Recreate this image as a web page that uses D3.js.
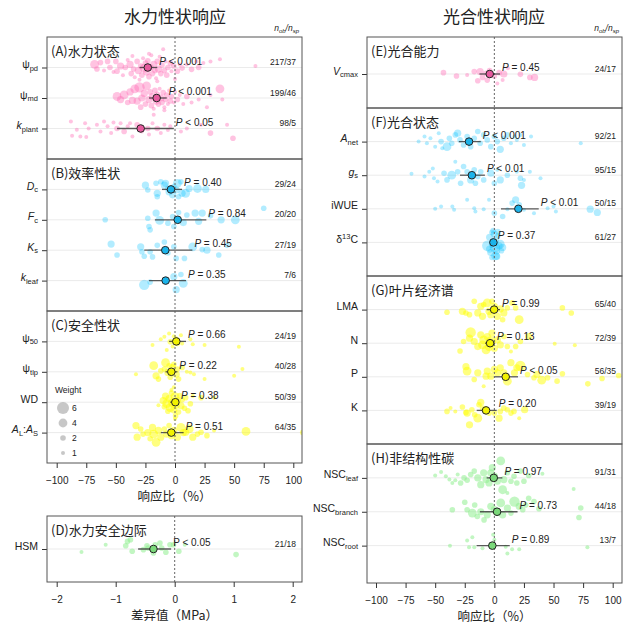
<!DOCTYPE html>
<html>
<head>
<meta charset="utf-8">
<script src="https://cdn.jsdelivr.net/npm/d3@7"></script>
<style>
  body { margin: 0; background: #fff; }
  text { font-family: "Liberation Sans", Arial, sans-serif; fill: #222; }
  .cjk { font-family: "Noto Sans CJK SC", sans-serif; }
</style>
</head>
<body>
<svg id="viz" width="639" height="632"></svg>
<script>
// ---------- data ----------
const traitKeys = ['psi_pd','psi_md','k_plant','D_c','F_c','K_s','k_leaf','psi_50','psi_tlp','WD','AL_AS','HSM',
  'V_cmax','A_net','g_s','iWUE','d13C','LMA','N','P','K','NSC_leaf','NSC_branch','NSC_root'];

// mean effect and 95% CI (response ratio %, HSM in MPa)
const traitMean = [-23, -15.5, -29, -3.4, 2.3, -8.2, -7.9, 1.1, -3.1, 0.3, -3.1, -0.36,
  -3.9, -21.4, -19, 20.3, -0.8, -0.2, -3.6, 9.6, -7, -0.5, 2.3, -1.7];
const traitLow = [-30, -22, -49, -11, -17, -26, -22, -5, -8, -4, -12, -0.62,
  -12.6, -30, -29, 5.6, -2.5, -6.5, -7.8, 0.3, -14.9, -6.5, -12.2, -15];
const traitHigh = [-15, -7, -1, 6, 26.5, 14.7, 9.3, 9.3, 2, 3.4, 7.3, -0.06,
  4.8, -11.5, -8, 37.5, 1.2, 4.8, 0.6, 20, 2, 6.8, 19.6, 13];
const traitP = ['< 0.001','< 0.001','< 0.05','= 0.40','= 0.84','= 0.45','= 0.35','= 0.66','= 0.22','= 0.38','= 0.51','< 0.05',
  '= 0.45','< 0.001','< 0.01','< 0.01','= 0.37','= 0.99','= 0.13','< 0.05','= 0.20','= 0.97','= 0.73','= 0.89'];
const traitN = ['217/37','199/46','98/5','29/24','20/20','27/19','7/6','24/19','40/28','50/39','64/35','21/18',
  '24/17','92/21','95/15','50/15','61/27','65/40','72/39','56/35','39/19','91/31','44/18','13/7'];

// tick labels: [text, style] segments (n normal, i italic, sub, sup)
const tickLabels = [
  [['ψ','n'],['pd','sub']], [['ψ','n'],['md','sub']], [['k','i'],['plant','sub']],
  [['D','i'],['c','sub']], [['F','i'],['c','sub']], [['K','i'],['s','sub']], [['k','i'],['leaf','sub']],
  [['ψ','n'],['50','sub']], [['ψ','n'],['tlp','sub']], [['WD','n']],
  [['A','i'],['L','sub'],[':','n'],['A','i'],['S','sub']], [['HSM','n']],
  [['V','i'],['cmax','sub']], [['A','i'],['net','sub']], [['g','i'],['s','sub']], [['iWUE','n']],
  [['δ','n'],['13','sup'],['C','n']],
  [['LMA','n']], [['N','n']], [['P','n']], [['K','n']],
  [['NSC','n'],['leaf','sub']], [['NSC','n'],['branch','sub']], [['NSC','n'],['root','sub']]
];

// individual observations: [effect, vertical jitter (row fraction), weight]
const ptsPsiPd = [[-68,-0.1,4],[-66,0.05,2],[-63,-0.16,2],[-60,0.1,1],[-57,-0.2,2],[-55,0,2],[-52,0.15,1],[-50,-0.2,2],
  [-49,0.12,2],[-46,-0.05,3],[-44,0.25,1],[-42,0,2],[-40,-0.25,1],[-38,-0.1,3],[-37,0.2,2],[-35,0.05,2],[-34,0.32,1],
  [-32,-0.2,2],[-31,0.1,3],[-29,-0.05,2],[-28,0.25,2],[-27,-0.3,1],[-26,0.02,4],[-25,-0.15,2],[-24,0.15,3],[-23,-0.22,2],
  [-22,0.3,2],[-21,0,3],[-20,-0.4,1],[-19,0.2,2],[-18,-0.1,3],[-17,0.1,2],[-16,0.35,1],[-15,-0.2,2],[-14,0.05,3],
  [-13,-0.35,1],[-12,0.2,2],[-11,-0.08,2],[-10,-0.6,1],[-9,0.1,2],[-8,-0.2,1],[-7,0.25,2],[-6,0,2],[-4,-0.15,2],
  [-3,0.12,1],[-1,-0.05,2],[0,0.38,1],[2,0.12,2],[4,-0.1,1],[6,0.02,2],[10,-0.1,1],[14,0.06,2],[18,-0.2,1],[20,0,2],
  [24,-0.15,1],[30,-0.2,1],[38,-0.27,1],[68,-0.05,1],[-30,0.4,1],[-36,-0.38,1],[-22,-0.45,1],[-15,0.45,1]];
const ptsPsiMd = [[-49,-0.05,4],[-46,0.05,3],[-43,-0.1,4],[-40,0.15,2],[-38,-0.2,3],[-36,0.08,3],[-34,-0.3,4],[-32,0.1,3],
  [-30,-0.35,5],[-29,0.3,2],[-28,0,3],[-26,-0.15,3],[-25,0.2,2],[-24,-0.4,4],[-22,0.05,3],[-21,-0.2,2],[-20,0.25,2],
  [-19,-0.05,3],[-18,0.35,1],[-17,-0.25,2],[-16,0.1,3],[-15,-0.12,2],[-14,0.2,2],[-13,-0.3,1],[-12,0,3],[-11,0.15,2],
  [-10,-0.18,2],[-9,0.3,1],[-8,0.05,2],[-7,-0.1,2],[-6,0.2,1],[-5,-0.25,1],[-4,0.1,2],[-3,-0.05,2],[-1,0.15,1],
  [0,-0.2,1],[2,0.05,2],[4,-0.1,1],[7,0.2,1],[10,-0.05,2],[14,0.15,1],[20,0.05,1],[27,0.3,1],[30,-0.1,1],[38,-0.3,4],
  [40,0.05,1],[-18,0.55,1],[-9,0.4,1]];
const ptsKPlant = [[-88,-0.23,1],[-87,0.24,1],[-83,0.04,1],[-80,0.26,1],[-76,-0.17,1],[-75,0.28,1],[-73,0,1],[-66,-0.12,1],
  [-63,0.1,1],[-60,-0.23,1],[-57,-0.07,1],[-54,0.15,1],[-52,-0.2,1],[-49,0,2],[-46,-0.17,1],[-43,0.1,2],[-40,-0.07,1],
  [-38,-0.17,1],[-36,0.26,1],[-32,-0.12,2],[-28,0.1,1],[-23,0,2],[-22,0.2,1],[-19,-0.17,1],[-15,0,2],[-12,0.15,1],
  [-9,-0.12,1],[-6,0.05,1],[-4,-0.07,1],[5,0.1,1],[10,0,1],[22,-0.12,1],[30,0.15,2],[44,-0.12,1],[49,0.32,2]];
const ptsDc = [[-25,-0.14,3],[-23,0.02,2],[-16,-0.2,2],[-15,0.13,3],[-12,-0.25,2],[-9,-0.14,3],[-8,-0.2,3],[-6,-0.03,2],
  [-5,0.08,3],[-2,0.18,3],[-1,-0.09,2],[1,0.02,3],[2,-0.2,4],[5,-0.25,2],[6,0.13,3],[9,0.13,4],[12,-0.03,3],[19,-0.03,4],
  [26,0,3],[-15,0.24,2],[3,0.24,2]];
const ptsFc = [[-59,0,2],[-23,-0.05,2],[-22,0.22,2],[-21,0.33,2],[-16,-0.22,3],[-13,0.02,4],[-6,0.11,2],[-2,-0.11,2],
  [-1,0.22,2],[3,-0.24,2],[7,0.09,3],[10,-0.16,2],[17,-0.22,3],[20,0.05,3],[23,-0.22,3],[30,-0.13,2],[39,0,3],[51,0,4],
  [75,-0.38,2]];
const ptsKs = [[-54,-0.2,3],[-49,0.16,2],[-29,-0.11,3],[-28,0.05,2],[-26,0.2,2],[-21,0.05,2],[-19,0.22,2],[-15,-0.16,2],
  [-9,-0.27,2],[-8,0,3],[-6,0.09,2],[-1,-0.11,2],[1,0.27,2],[8,0.27,2],[15,-0.11,4],[23,-0.02,2],[27,0,3],[37,0.16,2],
  [44,-0.16,2]];
const ptsKLeaf = [[-26,0.14,5],[-21,0.05,2],[-8,0,3],[-1,-0.13,3],[1,0.3,3],[5,-0.2,2],[7,0.09,4]];
const ptsPsi50 = [[-19,0.12,1],[-12,-0.07,1],[-9,-0.15,1],[-7,0.28,1],[-5,-0.26,1],[-4,0.01,2],[-2,0.17,1],[-1,-0.17,1],
  [1,-0.1,1],[2,0.07,2],[5,-0.2,1],[6,0.07,1],[13,-0.07,1],[15,0.09,1],[25,0.12,1],[54,0.18,1]];
const ptsPsiTlp = [[-33,0.08,1],[-18,-0.2,4],[-16,0.13,3],[-14,0.24,2],[-12,-0.03,2],[-9,-0.09,2],[-8,-0.3,4],[-6,0.02,3],
  [-5,-0.2,2],[-4,0.18,2],[-2,-0.14,3],[-1,-0.25,2],[1,0.08,3],[2,-0.09,2],[3,0.24,2],[6,-0.14,2],[10,0,1],[13,0.02,1],
  [16,0.08,1],[25,0.24,1],[50,0.13,1],[57,-0.09,1],[-1,0.51,1]];
const ptsWD = [[-10,-0.05,3],[-9,0.15,2],[-8,-0.2,3],[-7,0.05,4],[-6,0.3,2],[-5,-0.12,3],[-4,0.18,4],[-3,-0.3,2],[-2,0.02,4],
  [-1,0.25,3],[0,-0.18,4],[1,0.1,3],[2,-0.05,3],[3,0.32,2],[4,-0.22,2],[5,0.12,3],[6,-0.08,2],[8,0.2,2],[9,-0.15,2],
  [11,0.28,2],[13,0.05,2],[15,-0.2,1],[22,-0.15,2],[33,-0.15,1],[-14,0.1,1],[0,0.55,1],[-3,-0.4,1],[0.5,0.45,2]];
const ptsAlAs = [[-33,-0.23,3],[-32,0.15,3],[-29,-0.12,2],[-27,0.05,2],[-23,0,3],[-21,0.2,2],[-19,-0.17,3],[-18,0.05,4],
  [-16,0.32,4],[-14,-0.07,3],[-12,0.15,3],[-9,-0.12,2],[-7,0.05,3],[-5,-0.23,2],[-3,0.1,3],[-1,-0.07,3],[2,0.15,3],
  [5,-0.17,4],[7,0,3],[9,-0.01,3],[12,-0.12,4],[15,0.15,3],[19,0.05,2],[22,-0.01,2],[27,0.1,2],[33,-0.07,1],[60,-0.04,4],
  [108,0,2]];
const ptsHSM = [[-1.58,0.09,1],[-1.17,-0.13,1],[-0.83,-0.1,2],[-0.8,-0.23,2],[-0.75,-0.28,2],[-0.72,0.07,2],[-0.53,0.02,2],
  [-0.47,-0.1,2],[-0.45,-0.03,2],[-0.36,0.12,2],[-0.33,-0.13,2],[-0.25,-0.18,2],[-0.22,-0.03,2],[-0.15,0.1,2],
  [-0.08,-0.13,2],[-0.02,-0.13,2],[0.07,0.07,2],[0.17,-0.13,1],[1.04,0.17,2]];
const ptsVcmax = [[-43,-0.04,2],[-32,0.06,2],[-23,0.03,1],[-17,-0.07,2],[-14,0.2,2],[-12,-0.07,3],[-10,0.1,2],[-7,-0.02,2],
  [-6,0.18,2],[-4,-0.1,2],[0,0.06,2],[2.5,0.28,1],[4,-0.04,2],[7,0.18,1],[8,0,3],[11.5,-0.17,1],[22,0.01,2],[30,0.1,2],
  [34,0.1,3]];
const ptsAnet = [[-64,0,1],[-59,-0.15,1],[-57,0.05,1],[-54,-0.1,1],[-50,0.15,1],[-47,-0.25,1],[-45,0,2],[-44,0.2,1],
  [-40,0.15,4],[-38,-0.1,2],[-36,0.05,2],[-33,-0.2,2],[-31,-0.25,3],[-29,-0.05,2],[-26,0.1,2],[-23,-0.15,2],[-20,0.15,2],
  [-17,-0.1,2],[-14,-0.3,2],[-12,0.05,2],[-9,-0.2,2],[-6,-0.05,2],[-3,0.15,2],[0,-0.15,2],[2.5,0,2],[5,0.23,3],[8,-0.1,2],
  [11,-0.2,2],[14,0.05,1],[17,-0.15,1],[19,-0.05,1],[22,-0.2,1],[25,0.1,1],[31,-0.15,1],[73,0.05,1]];
const ptsGs = [[-70,-0.04,1],[-59,0.04,1],[-55,-0.1,1],[-52,-0.2,1],[-51,0.09,1],[-48,0.19,1],[-42.5,-0.06,2],[-40,0.14,2],
  [-36,0,4],[-33,-0.4,1],[-31,-0.1,2],[-28.5,0.24,2],[-26,-0.26,2],[-23,-0.1,2],[-20,0.14,3],[-17,-0.16,2],[-16,0.24,2],
  [-14,0.04,2],[-11.5,-0.1,2],[-9,0.14,2],[-3,-0.06,3],[0,0.24,2],[2.5,-0.16,1],[5,0.14,3],[11,0,2],[19,-0.1,1],
  [22,0.09,2],[23,0.3,3],[25,0.14,1],[30,-0.1,1],[39,0.09,1]];
const ptsIWUE = [[-50,0,1],[-45,-0.07,1],[-35.5,-0.07,1],[-34,0.03,1],[-23,-0.27,1],[-17,-0.02,1],[-16,0.08,1],[-9,0.01,1],
  [-4.5,-0.27,1],[0,0.13,2],[7,0.23,2],[11,0.01,1],[15,-0.17,2],[18,-0.27,3],[21,-0.12,2],[25,0.03,1],[33.5,0.13,1],
  [45,-0.02,1],[50,-0.07,1],[52,0.08,1],[81,0.01,3],[87,0.11,3]];
const ptsD13C = [[-6,0.1,5],[-4,-0.15,3],[-3,0.3,3],[-2,-0.3,2],[-1,0.05,4],[0,-0.25,3],[0.5,0.15,5],[1,-0.05,3],[2,0.25,3],
  [3,-0.2,2],[4,0.1,3],[5,0.05,4],[6,0.25,2],[1,0.4,4],[-2,0.45,2],[2,0.42,3],[-1,-0.35,2],[7,0.15,3],[-4,0.2,3],[3,-0.32,2]];
const ptsLMA = [[-40,0.08,2],[-27,0.05,3],[-24,0.1,2],[-21,0.15,2],[-17,-0.25,2],[-14,0.1,3],[-11.5,-0.1,3],[-10,0.2,3],
  [-9,-0.15,2],[-6,-0.2,4],[-4.5,0.05,3],[-3,0.15,3],[0,-0.1,3],[2.5,0.2,3],[5,-0.02,3],[7,0.3,2],[8,0.1,3],[11,-0.05,2],
  [15,-0.2,2],[18,-0.05,2],[21,0.3,4],[57.5,-0.05,2],[65,0.1,2],[-2,-0.25,2]];
const ptsN = [[-29,0.23,2],[-26,-0.05,2],[-21,-0.15,3],[-20,-0.32,5],[-17,-0.05,3],[-14,0.1,3],[-11.5,-0.25,3],[-10,0.05,4],
  [-9,-0.1,4],[-7,0.2,4],[-6,-0.2,3],[-4.5,0.1,4],[-3,-0.05,5],[-2,-0.3,3],[0,0.15,3],[2.5,-0.1,3],[5,0.05,3],[8,-0.2,2],
  [11,0.1,2],[14,0.25,1],[18,0.1,2],[22,-0.05,2],[29,-0.2,3],[51,0.02,1],[68,0.06,1]];
const ptsP = [[-24,-0.3,3],[-23,-0.17,4],[-17,0.08,2],[-14,-0.12,3],[-9,0.28,1],[-7,-0.02,3],[-6,-0.17,3],[-3,-0.02,3],
  [0,-0.22,3],[2.5,-0.12,3],[5,-0.27,3],[8,-0.12,3],[11,0.13,4],[14,-0.42,3],[17,-0.12,3],[19,-0.27,3],[22,-0.32,5],
  [28,-0.07,2],[33.5,0.03,2],[36,-0.07,3],[40,0.1,4],[45,0.03,2],[53,0.13,2],[57.5,-0.09,2],[79,0.21,2],[91,0.05,2],
  [105,-0.04,2]];
const ptsK = [[-40,0.03,2],[-37,-0.07,1],[-33,0.03,1],[-27,-0.1,2],[-24,0.06,2],[-23,0.08,3],[-19,-0.02,2],[-16.6,0.13,2],
  [-14,0.23,4],[-13,-0.17,2],[-11.5,-0.24,3],[-10,-0.07,2],[-7,-0.02,2],[-4.5,0.08,2],[0,0.08,2],[4,0.23,3],[5,0.03,2],
  [8,-0.07,2],[11,-0.02,2],[14,0.08,2],[16.6,0.03,2],[21,0.23,1],[25.6,-0.02,3],[-21,0.43,3]];
const ptsNscLeaf = [[-50,-0.07,1],[-45,-0.17,1],[-41,-0.05,1],[-38,0.05,1],[-35.5,0.15,1],[-33,0.07,1],[-31,-0.1,1],
  [-28.5,0.15,2],[-25.6,0,2],[-23,0.07,2],[-20,-0.1,2],[-17,-0.2,2],[-14,0,3],[-11.5,0.2,3],[-9,-0.15,3],[-7,0.05,3],
  [-4.5,0.15,3],[-3,-0.15,3],[-1.7,-0.3,3],[0,-0.05,3],[2.5,0.1,3],[5.4,-0.5,4],[7,0.35,4],[8,0.05,3],[11,-0.15,2],
  [11,0.45,1],[14,0.1,2],[16.6,-0.05,2],[19,0.15,2],[22,-0.2,2],[25,0.1,2],[29,-0.07,2],[40.6,-0.12,1],[67,0.33,1]];
const ptsNscBranch = [[-35.5,-0.06,2],[-25,-0.28,2],[-23,-0.06,2],[-18.6,0.04,4],[-16.6,-0.2,2],[-14.4,0.14,2],[-11.5,0,3],
  [-8.7,0.24,2],[-6,0.09,3],[-3,-0.16,3],[0,-0.06,3],[2.5,0.02,3],[5.4,-0.26,4],[7,0.09,3],[11,-0.11,3],[14,0.04,2],
  [17,-0.3,5],[21,-0.16,3],[24,-0.06,2],[26.5,-0.2,2],[29,-0.4,2],[33.5,-0.3,2],[37.7,-0.09,2],[73,-0.11,2],[71.5,0.17,2]];
const ptsNscRoot = [[-37.5,0,1],[-23,-0.15,1],[-18.6,-0.25,1],[-21.4,0.05,1],[-17,0.05,1],[-10,0.08,1],[-1,-0.32,1],
  [0,-0.17,1],[9.6,0.03,1],[11,0.23,1],[15,0.11,1],[21,0.11,1],[78.6,0.05,1]];

const traitPoints = {
  psi_pd: ptsPsiPd, psi_md: ptsPsiMd, k_plant: ptsKPlant, D_c: ptsDc, F_c: ptsFc, K_s: ptsKs, k_leaf: ptsKLeaf,
  psi_50: ptsPsi50, psi_tlp: ptsPsiTlp, WD: ptsWD, AL_AS: ptsAlAs, HSM: ptsHSM, V_cmax: ptsVcmax, A_net: ptsAnet,
  g_s: ptsGs, iWUE: ptsIWUE, d13C: ptsD13C, LMA: ptsLMA, N: ptsN, P: ptsP, K: ptsK,
  NSC_leaf: ptsNscLeaf, NSC_branch: ptsNscBranch, NSC_root: ptsNscRoot
};

const panelTitles = ['(A)水力状态','(B)效率性状','(C)安全性状','(D)水力安全边际',
  '(E)光合能力','(F)光合状态','(G)叶片经济谱','(H)非结构性碳'];
const panelKeys = [['psi_pd','psi_md','k_plant'], ['D_c','F_c','K_s','k_leaf'], ['psi_50','psi_tlp','WD','AL_AS'], ['HSM'],
  ['V_cmax'], ['A_net','g_s','iWUE','d13C'], ['LMA','N','P','K'], ['NSC_leaf','NSC_branch','NSC_root']];
const xTicksPct = [-100, -75, -50, -25, 0, 25, 50, 75, 100];
const xTicksMPa = [-2, -1, 0, 1, 2];
const legendWeights = [6, 4, 2, 1];

// ---------- layout ----------
const svg = d3.select('#viz');
const rScale = d3.scaleLinear().domain([1, 6]).range([2, 6]);

const palette = {
  pink:   { pt: '#ff69b4', op: 0.4,  mean: '#e65a9e' },
  blue:   { pt: '#00bfff', op: 0.3,  mean: '#1cb3ea' },
  yellow: { pt: '#ffff00', op: 0.5,  mean: '#f2f200' },
  green:  { pt: '#90ee90', op: 0.55, mean: '#7ad87a' }
};

const cols = {
  L: { x0: 47,  x1: 302, x: d3.scaleLinear().domain([-100, 100]).range([56.7, 293.3]) },
  R: { x0: 367, x1: 622, x: d3.scaleLinear().domain([-100, 100]).range([376, 612.7]) },
  D: { x0: 47,  x1: 302, x: d3.scaleLinear().domain([-2, 2]).range([56.7, 292.7]) }
};

const panelBox = [
  { col: 'L', top: 37,  bottom: 159, color: 'pink' },
  { col: 'L', top: 159, bottom: 311, color: 'blue' },
  { col: 'L', top: 311, bottom: 463, color: 'yellow', axis: xTicksPct, title: '响应比（%）', legend: true },
  { col: 'D', top: 516, bottom: 582, color: 'green', axis: xTicksMPa, title: '差异值（MPa）', upright: true },
  { col: 'R', top: 37,  bottom: 108, color: 'pink', rows: [40, 108] },
  { col: 'R', top: 108, bottom: 276, color: 'blue' },
  { col: 'R', top: 276, bottom: 444, color: 'yellow' },
  { col: 'R', top: 444, bottom: 583, color: 'green', rows: [444, 579.5], axis: xTicksPct, title: '响应比（%）' }
];

// Column headings
svg.append('text').attr('class', 'cjk').attr('x', 175).attr('y', 23).attr('text-anchor', 'middle')
  .attr('font-size', 17).text('水力性状响应');
svg.append('text').attr('class', 'cjk').attr('x', 494).attr('y', 23).attr('text-anchor', 'middle')
  .attr('font-size', 17).text('光合性状响应');
[299, 619].forEach(xr => {
  const t = svg.append('text').attr('x', xr).attr('y', 31).attr('text-anchor', 'end').attr('font-size', 8.5)
    .attr('font-style', 'italic');
  t.append('tspan').text('n');
  t.append('tspan').text('ob').attr('font-size', 6).attr('dy', 2);
  t.append('tspan').text('/n').attr('dy', -2);
  t.append('tspan').text('sp').attr('font-size', 6).attr('dy', 2);
});

panelBox.forEach((box, pi) => {
  const col = cols[box.col];
  const x = col.x;
  const pal = palette[box.color];
  const keys = panelKeys[pi];
  const y = d3.scalePoint().domain(keys).range(box.rows || [box.top, box.bottom]).padding(1);
  const step = y.step();
  const g = svg.append('g');

  const clipId = 'clip' + pi;
  svg.append('clipPath').attr('id', clipId).append('rect')
    .attr('x', col.x0).attr('y', box.top).attr('width', col.x1 - col.x0).attr('height', box.bottom - box.top);

  // Row grid lines
  g.selectAll('line.grid').data(keys).join('line').attr('class', 'grid')
    .attr('x1', col.x0).attr('x2', col.x1).attr('y1', k => y(k)).attr('y2', k => y(k))
    .attr('stroke', '#ebebeb');

  // Individual observations
  const pg = g.append('g').attr('clip-path', `url(#${clipId})`);
  keys.forEach(k => {
    pg.append('g').selectAll('circle').data(traitPoints[k]).join('circle')
      .attr('cx', d => x(d[0])).attr('cy', d => y(k) + d[1] * step).attr('r', d => rScale(d[2]))
      .attr('fill', pal.pt).attr('fill-opacity', pal.op);
  });

  // Zero reference
  g.append('line').attr('x1', x(0)).attr('x2', x(0)).attr('y1', box.top).attr('y2', box.bottom)
    .attr('stroke', '#666').attr('stroke-dasharray', '2,2');

  // Mean effect + CI, P and counts
  keys.forEach(k => {
    const i = traitKeys.indexOf(k);
    const yy = y(k);
    g.append('line').attr('x1', x(traitLow[i])).attr('x2', x(traitHigh[i])).attr('y1', yy).attr('y2', yy)
      .attr('stroke', '#333').attr('stroke-opacity', 0.8).attr('stroke-width', 1.3);
    g.append('circle').attr('cx', x(traitMean[i])).attr('cy', yy).attr('r', 3.8)
      .attr('fill', pal.mean).attr('stroke', '#222').attr('stroke-width', 1);
    const pt = g.append('text').attr('x', x(traitHigh[i]) + 2).attr('y', yy - 3).attr('font-size', 10);
    pt.append('tspan').text('P').attr('font-style', box.upright ? null : 'italic');
    pt.append('tspan').text(' ' + traitP[i]);
    g.append('text').attr('x', col.x1 - 6).attr('y', yy - 2.5).attr('text-anchor', 'end')
      .attr('font-size', 8.5).text(traitN[i]);
  });

  // Y axis with rich labels
  const ya = g.append('g').attr('transform', `translate(${col.x0},0)`)
    .call(d3.axisLeft(y).tickSize(5).tickPadding(4));
  ya.select('.domain').remove();
  ya.selectAll('.tick line').attr('stroke', '#333');
  ya.selectAll('.tick text').each(function (k) {
    const t = d3.select(this).text('').attr('font-family', null).attr('fill', '#222');
    let shift = 0;
    tickLabels[traitKeys.indexOf(k)].forEach(([s, st]) => {
      const target = st === 'sub' ? 2.5 : st === 'sup' ? -4 : 0;
      t.append('tspan').text(s).attr('dy', target - shift)
        .attr('font-size', st === 'sub' || st === 'sup' ? 7.5 : 10.5)
        .attr('font-style', st === 'i' ? 'italic' : null);
      shift = target;
    });
  });

  // Panel title
  g.append('text').attr('class', 'cjk').attr('x', col.x0 + 4).attr('y', box.top + 19)
    .attr('font-size', 13).text(panelTitles[pi]);

  // Frame
  g.append('rect').attr('x', col.x0).attr('y', box.top).attr('width', col.x1 - col.x0)
    .attr('height', box.bottom - box.top).attr('fill', 'none').attr('stroke', '#555');

  // X axis
  if (box.axis) {
    const xa = g.append('g').attr('transform', `translate(0,${box.bottom})`)
      .call(d3.axisBottom(x).tickValues(box.axis).tickFormat(d3.format('d'))
        .tickSize(5).tickSizeOuter(0).tickPadding(9));
    xa.select('.domain').remove();
    xa.selectAll('.tick line').attr('stroke', '#333');
    xa.selectAll('.tick text').attr('font-family', null).attr('font-size', 10).attr('fill', '#222');
    g.append('text').attr('class', 'cjk').attr('x', (col.x0 + col.x1) / 2).attr('y', box.bottom + 38)
      .attr('text-anchor', 'middle').attr('font-size', 12.5).text(box.title);
  }

  // Weight legend
  if (box.legend) {
    const lg = g.append('g');
    lg.append('text').attr('x', 55).attr('y', 393).attr('font-size', 8.5).text('Weight');
    lg.selectAll('circle').data(legendWeights).join('circle')
      .attr('cx', 63).attr('cy', (d, j) => 408 + j * 15).attr('r', d => rScale(d))
      .attr('fill', '#999').attr('fill-opacity', 0.55);
    lg.selectAll('text.lab').data(legendWeights).join('text').attr('class', 'lab')
      .attr('x', 72).attr('y', (d, j) => 411 + j * 15).attr('font-size', 8.5).text(d => d);
  }
});
</script>
</body>
</html>
